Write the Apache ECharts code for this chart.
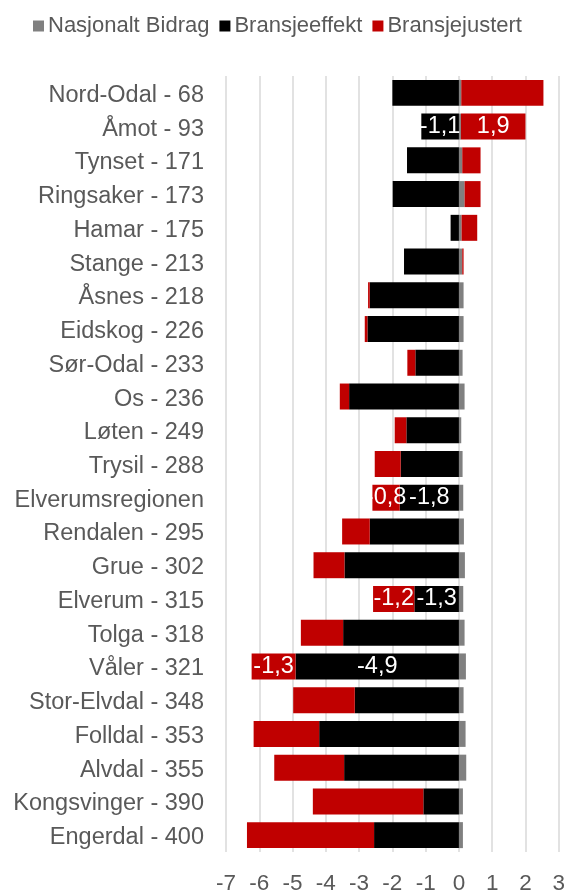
<!DOCTYPE html>
<html><head><meta charset="utf-8">
<script src="https://cdn.jsdelivr.net/npm/echarts@6/dist/echarts.min.js"></script>
<style>html,body{margin:0;padding:0;background:#fff}#c{width:568px;height:895px}</style>
</head><body><div id="c"></div>
<script>
const categories = ['Nord-Odal - 68','Åmot - 93','Tynset - 171','Ringsaker - 173','Hamar - 175','Stange - 213','Åsnes - 218','Eidskog - 226','Sør-Odal - 233','Os - 236','Løten - 249','Trysil - 288','Elverumsregionen','Rendalen - 295','Grue - 302','Elverum - 315','Tolga - 318','Våler - 321','Stor-Elvdal - 348','Folldal - 353','Alvdal - 355','Kongsvinger - 390','Engerdal - 400'];
const nasjonalt = [0.07,0.06,0.10,0.17,0.08,0.10,0.14,0.14,0.11,0.17,0.07,0.11,0.13,0.15,0.18,0.13,0.17,0.21,0.14,0.20,0.22,0.12,0.12];
const bransjeeffekt = [-2.00,-1.13,-1.56,-1.99,-0.25,-1.65,-2.68,-2.75,-1.31,-3.30,-1.58,-1.75,-1.78,-2.68,-3.44,-1.34,-3.48,-4.91,-3.13,-4.20,-3.45,-1.07,-2.55];
const bransjejustert = [2.47,1.94,0.55,0.48,0.47,0.04,-0.05,-0.08,-0.24,-0.28,-0.35,-0.78,-0.82,-0.83,-0.93,-1.24,-1.27,-1.32,-1.85,-1.97,-2.10,-3.32,-3.82];
const labelled = ['Åmot - 93','Elverumsregionen','Elverum - 315','Våler - 321'];
const xTicks = [-7,3,1];

const FONT = '"Liberation Sans", Arial, sans-serif';
const fmt = v => v.toFixed(1).replace('.', ',');
function mk(vals) {
  return vals.map((v, i) => labelled.includes(categories[i])
    ? {value: v, label: {show: true, position: 'inside', color: '#fff', fontSize: 23.5, fontFamily: FONT, formatter: p => fmt(p.value)}}
    : v);
}
const chart = echarts.init(document.getElementById('c'), null, {renderer: 'canvas'});
chart.setOption({
  animation: false,
  textStyle: {fontFamily: FONT},
  legend: {
    top: 10, left: 28, itemWidth: 11, itemHeight: 11, itemGap: 10,
    icon: 'rect',
    textStyle: {fontSize: 22, color: '#595959', fontFamily: FONT, padding: [0,0,0,-1]},
    data: ['Nasjonalt Bidrag','Bransjeeffekt','Bransjejustert']
  },
  grid: {left: 226, right: 8, top: 76, bottom: 38, containLabel: false},
  xAxis: {
    type: 'value', min: xTicks[0], max: xTicks[1], interval: xTicks[2],
    axisLine: {show: false}, axisTick: {show: false},
    splitLine: {lineStyle: {color: '#d9d9d9', width: 1.5}},
    axisLabel: {fontSize: 22.5, color: '#595959', fontFamily: FONT, margin: 20}
  },
  yAxis: {
    type: 'category', data: categories, inverse: true,
    axisLine: {show: false}, axisTick: {show: false},
    axisLabel: {
      margin: 22,
      formatter: v => '{a|' + v + '}',
      rich: {a: {fontSize: 23.5, color: '#595959', fontFamily: FONT, padding: [5,0,0,0]}}
    }
  },
  series: [
    {name: 'Nasjonalt Bidrag', type: 'bar', stack: 's', data: nasjonalt, itemStyle: {color: '#808080'}, barCategoryGap: '23%'},
    {name: 'Bransjeeffekt', type: 'bar', stack: 's', data: mk(bransjeeffekt), itemStyle: {color: '#000000'}},
    {name: 'Bransjejustert', type: 'bar', stack: 's', data: mk(bransjejustert), itemStyle: {color: '#c00000'}}
  ]
});
</script></body></html>
